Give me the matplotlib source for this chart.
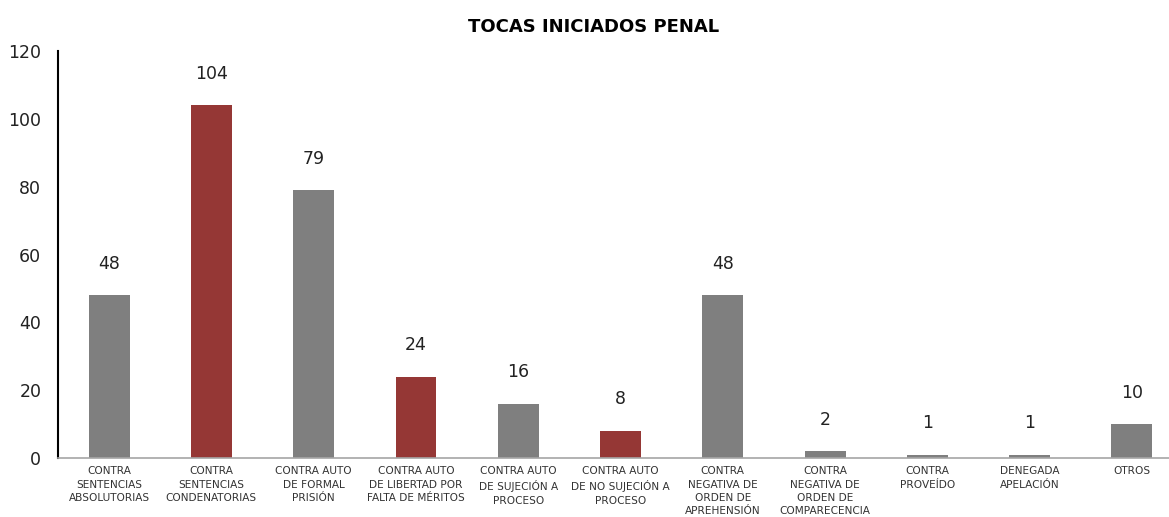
import matplotlib
matplotlib.use("Agg")
import matplotlib.pyplot as plt
import numpy as np

## datos de la grafica
categorias = ["CONTRA\nSENTENCIAS\nABSOLUTORIAS", "CONTRA\nSENTENCIAS\nCONDENATORIAS",
              "CONTRA AUTO\nDE FORMAL\nPRISIÓN", "CONTRA AUTO\nDE LIBERTAD POR\nFALTA DE MÉRITOS",
              "CONTRA AUTO\nDE SUJECIÓN A\nPROCESO", "CONTRA AUTO\nDE NO SUJECIÓN A\nPROCESO",
              "CONTRA\nNEGATIVA DE\nORDEN DE\nAPREHENSIÓN", "CONTRA\nNEGATIVA DE\nORDEN DE\nCOMPARECENCIA",
              "CONTRA\nPROVEÍDO", "DENEGADA\nAPELACIÓN", "OTROS"]
valores = [48, 104, 79, 24, 16, 8, 48, 2, 1, 1, 10]
resaltados = [1, 3, 5]  ## indices de barras rojas

gris = "#7f7f7f"
rojo = "#953735"

plt.rcParams['font.family'] = ['DejaVu Sans']

fig = plt.figure(figsize=(11.69, 5.17), dpi=100)
ax = fig.add_axes([58/1169, 59/517, 1125/1169, 407/517])

x = np.arange(len(valores))
colores = [rojo if i in resaltados else gris for i in range(len(valores))]
ax.bar(x, valores, width=0.4, color=colores)

for xi, v in zip(x, valores):
    ax.text(xi, v + 6.6, str(v), ha="center", va="bottom", fontsize=12.5, color="#222222")

ax.set_xlim(-0.5, len(valores) - 0.5)
ax.set_ylim(0, 120)
ax.set_yticks(range(0, 121, 20))
ax.set_xticks(x)
ax.set_xticklabels(categorias, fontsize=7.6, color="#333333", linespacing=1.4)
ax.tick_params(axis="both", length=0)
ax.tick_params(axis="y", labelsize=12.5, pad=12, labelcolor="#222222")
ax.tick_params(axis="x", pad=6)

for s in ["top", "right"]:
    ax.spines[s].set_visible(False)
ax.spines["left"].set_color("black")
ax.spines["left"].set_linewidth(1.5)
ax.spines["bottom"].set_color("#a6a6a6")
ax.spines["bottom"].set_linewidth(1.2)

fig.text(594/1169, 1 - 27/517, "TOCAS INICIADOS PENAL", ha="center", va="center",
         fontsize=13, fontweight="bold")

fig.savefig("out.png", dpi=100)
